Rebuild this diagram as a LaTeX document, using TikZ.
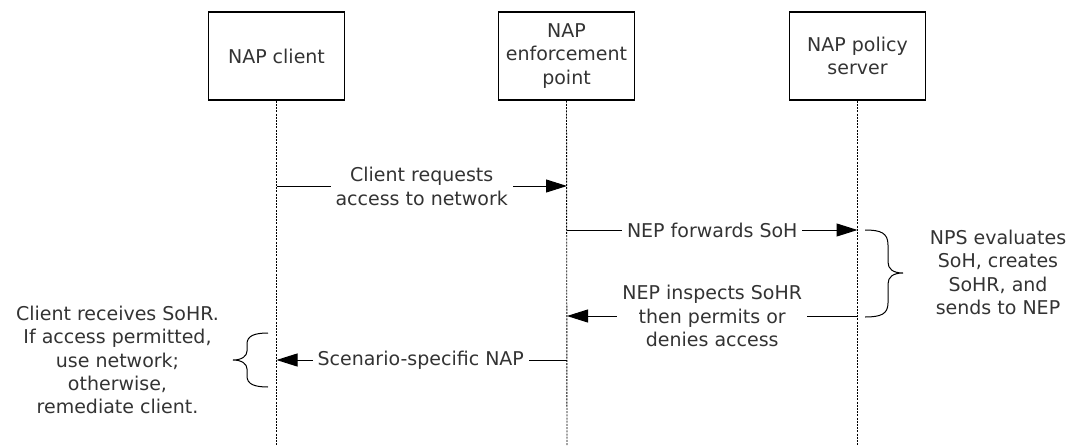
\documentclass[tikz,border=0pt]{standalone}
\usepackage{fontspec}
\setmainfont{DejaVu Sans}
\usetikzlibrary{arrows.meta}
\definecolor{txt}{HTML}{333333}
\tikzset{
  actor/.style={draw=black, line width=1.4pt, minimum width=136pt, minimum height=88pt, align=center, text=txt, inner sep=0pt},
  life/.style={draw=black, line width=0.9pt, dash pattern=on 2pt off 1.2pt},
  msg/.style={draw=black, line width=1pt, -{Triangle[length=21pt,width=13pt]}},
  lbl/.style={fill=white, text=txt, align=center, inner xsep=5pt, inner ysep=0pt},
  note/.style={text=txt, align=center, inner sep=0pt},
  brc/.style={draw=black, line width=1pt}
}
\begin{document}
\begin{tikzpicture}[x=1pt,y=-1pt,font=\fontsize{19}{23.4}\selectfont]
\useasboundingbox (0,0) rectangle (1072,445);
% actors
\node[actor] (c) at (276.5,56) {NAP client};
\node[actor] (e) at (566.5,56) {NAP\\enforcement\\point};
\node[actor] (s) at (857.5,56) {NAP policy\\server};
% lifelines
\coordinate (cEnd) at (276.5,445);
\coordinate (eEnd) at (567,445);
\coordinate (sEnd) at (857.5,445);
\draw[life] (c.south) -- (cEnd);
\draw[life] (e.south) -- (eEnd);
\draw[life] (s.south) -- (sEnd);
% message points
\coordinate (c1) at (276.5,186);
\coordinate (e1) at (567,186);
\coordinate (e2) at (567,230);
\coordinate (s2) at (857.5,230);
\coordinate (s3) at (857.5,316);
\coordinate (e3) at (567,316);
\coordinate (e4) at (567,360);
\coordinate (c4) at (276.5,360);
% messages
\draw[msg] (c1) -- (e1) node[lbl, midway, yshift=-0.5pt] (l1) {Client requests\\access to network};
\draw[msg] (e2) -- (s2) node[lbl, midway] (l2) {NEP forwards SoH};
\draw[msg] (s3) -- (e3) node[lbl, midway] (l3) {NEP inspects SoHR\\then permits or\\denies access};
\draw[msg] (e4) -- (c4) node[lbl, midway, xshift=-1pt] (l4) {Scenario-specific NAP};
% right brace
\draw[brc] (865,230) .. controls (881,230) and (888,233) .. (888,245)
  -- (888,262) .. controls (888,269) and (893,273) .. (903,273)
  .. controls (893,273) and (888,277) .. (888,284)
  -- (888,303) .. controls (888,314) and (881,317) .. (865,317);
\node[note] (n1) at (998,272.5) {NPS evaluates\\SoH, creates\\SoHR, and\\sends to NEP};
% left brace
\draw[brc] (268,333) .. controls (254,333) and (247,336) .. (247,344)
  -- (247,351) .. controls (247,356) and (242,360) .. (233,360)
  .. controls (242,360) and (247,364) .. (247,369)
  -- (247,376) .. controls (247,384) and (254,387) .. (268,387);
\node[note] (n2) at (117.5,360) {Client receives SoHR.\\If access permitted,\\use network;\\otherwise,\\remediate client.};
\end{tikzpicture}
\end{document}
